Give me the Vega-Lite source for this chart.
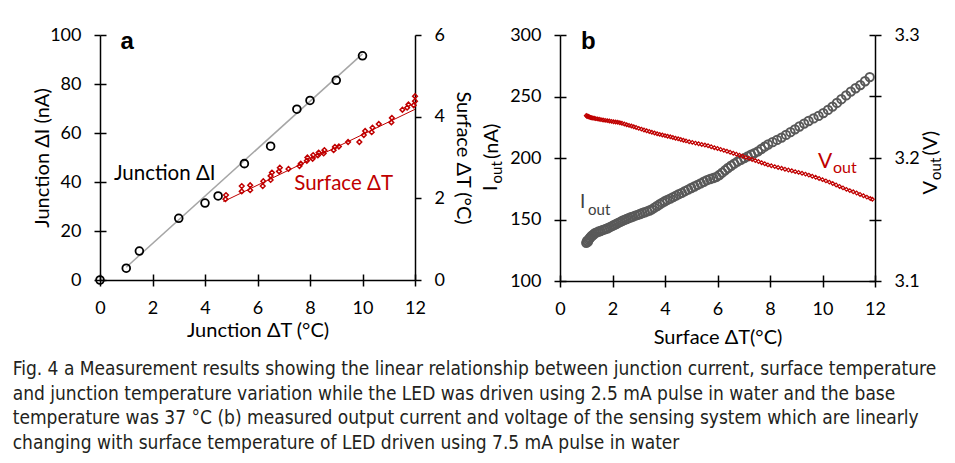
{
  "$schema": "https://vega.github.io/schema/vega-lite/v6.json",
  "padding": {"left": 12, "top": 26, "right": 0, "bottom": 0},
  "background": "white",
  "config": {
    "view": {"stroke": null},
    "font": "Lato",
    "concat": {"spacing": 8},
    "axis": {
      "grid": false, "domainColor": "#000", "domainWidth": 1.5, "tickColor": "#000", "tickWidth": 1.5, "tickSize": 6,
      "labelFont": "Lato", "labelFontSize": 18, "labelColor": "#000", "labelPadding": 13, "labelFlush": false, "labelOverlap": false,
      "titleFont": "Lato", "titleFontSize": 20, "titleFontWeight": "normal", "titleColor": "#000"
    }
  },
  "title": {
    "text": [
      "Fig. 4  a Measurement results showing the linear relationship between junction current, surface temperature",
      "and junction temperature variation while the LED was driven using 2.5 mA pulse in water and the base",
      "temperature was 37 °C (b) measured output current and voltage of the sensing system which are linearly",
      "changing with surface temperature of LED driven using 7.5 mA pulse in water"
    ],
    "orient": "bottom", "anchor": "start", "frame": "bounds",
    "font": "'Liberation Sans Narrow', 'DejaVu Sans Condensed', 'Roboto Condensed', sans-serif",
    "fontSize": 19, "fontWeight": "normal", "color": "#231f20", "lineHeight": 24.5, "offset": 13, "dx": -20
  },
  "datasets": {
    "junction": [
      {"x": 0, "dI": 0}, {"x": 1, "dI": 4.8}, {"x": 1.5, "dI": 11.8}, {"x": 3, "dI": 25.2}, {"x": 4, "dI": 31.4},
      {"x": 4.5, "dI": 34.3}, {"x": 5.5, "dI": 47.5}, {"x": 6.5, "dI": 54.6}, {"x": 7.5, "dI": 69.7}, {"x": 8, "dI": 73.3},
      {"x": 9, "dI": 81.5}, {"x": 10, "dI": 91.5}
    ],
    "jfit": [{"x": 1, "dI": 5.2}, {"x": 10, "dI": 92.3}],
    "surface": [
      {"x": 4.78, "sT": 1.98}, {"x": 4.8, "sT": 2.08}, {"x": 5.4, "sT": 2.17}, {"x": 5.4, "sT": 2.3}, {"x": 5.72, "sT": 2.2},
      {"x": 5.72, "sT": 2.32}, {"x": 6.2, "sT": 2.3}, {"x": 6.22, "sT": 2.42}, {"x": 6.5, "sT": 2.45}, {"x": 6.5, "sT": 2.55},
      {"x": 6.55, "sT": 2.63}, {"x": 6.82, "sT": 2.66}, {"x": 6.85, "sT": 2.75}, {"x": 7.18, "sT": 2.72}, {"x": 7.6, "sT": 2.79},
      {"x": 7.65, "sT": 2.85}, {"x": 7.88, "sT": 2.92}, {"x": 7.9, "sT": 3.0}, {"x": 8.1, "sT": 2.97}, {"x": 8.12, "sT": 3.06},
      {"x": 8.3, "sT": 3.05}, {"x": 8.33, "sT": 3.12}, {"x": 8.52, "sT": 3.1}, {"x": 8.55, "sT": 3.18}, {"x": 8.9, "sT": 3.18},
      {"x": 8.95, "sT": 3.26}, {"x": 9.1, "sT": 3.27}, {"x": 9.45, "sT": 3.38}, {"x": 9.88, "sT": 3.38}, {"x": 10.05, "sT": 3.55},
      {"x": 10.1, "sT": 3.65}, {"x": 10.35, "sT": 3.62}, {"x": 10.38, "sT": 3.73}, {"x": 10.62, "sT": 3.82}, {"x": 11.1, "sT": 3.86},
      {"x": 11.12, "sT": 3.97}, {"x": 11.52, "sT": 4.17}, {"x": 11.7, "sT": 4.22}, {"x": 11.75, "sT": 4.3}, {"x": 11.95, "sT": 4.28},
      {"x": 12.0, "sT": 4.38}, {"x": 12.0, "sT": 4.5}
    ],
    "sfit": [{"x": 4.7, "sT": 1.92}, {"x": 12, "sT": 4.18}],
    "iout": [
      {"x": 1.0, "iout": 131}, {"x": 1.03, "iout": 132.5}, {"x": 1.06, "iout": 131.8}, {"x": 1.09, "iout": 133.5}, {"x": 1.12, "iout": 134.5},
      {"x": 1.15, "iout": 135.2}, {"x": 1.19, "iout": 136.3}, {"x": 1.23, "iout": 137}, {"x": 1.28, "iout": 137.8}, {"x": 1.33, "iout": 138.9},
      {"x": 1.4, "iout": 139.5}, {"x": 1.47, "iout": 140.2}, {"x": 1.54, "iout": 140.6}, {"x": 1.61, "iout": 141.4}, {"x": 1.68, "iout": 141.8},
      {"x": 1.75, "iout": 142.4}, {"x": 1.82, "iout": 142.9}, {"x": 1.9, "iout": 143.8}, {"x": 1.98, "iout": 144.6}, {"x": 2.06, "iout": 145.5},
      {"x": 2.14, "iout": 146.3}, {"x": 2.22, "iout": 147.2}, {"x": 2.3, "iout": 148.1}, {"x": 2.38, "iout": 149.0}, {"x": 2.46, "iout": 149.7},
      {"x": 2.54, "iout": 150.4}, {"x": 2.62, "iout": 151.1}, {"x": 2.7, "iout": 151.8}, {"x": 2.78, "iout": 152.3}, {"x": 2.87, "iout": 153.2},
      {"x": 2.96, "iout": 153.8}, {"x": 3.05, "iout": 154.5}, {"x": 3.14, "iout": 155.3}, {"x": 3.23, "iout": 155.9}, {"x": 3.32, "iout": 156.6},
      {"x": 3.41, "iout": 157.3}, {"x": 3.5, "iout": 158.2}, {"x": 3.6, "iout": 159.6}, {"x": 3.7, "iout": 161.0}, {"x": 3.8, "iout": 162.4},
      {"x": 3.9, "iout": 163.7}, {"x": 3.99, "iout": 164.8}, {"x": 4.09, "iout": 165.9}, {"x": 4.2, "iout": 167.0}, {"x": 4.31, "iout": 168.2},
      {"x": 4.42, "iout": 169.4}, {"x": 4.53, "iout": 170.6}, {"x": 4.64, "iout": 171.7}, {"x": 4.76, "iout": 173.0}, {"x": 4.88, "iout": 174.3},
      {"x": 5.0, "iout": 175.6}, {"x": 5.12, "iout": 176.8}, {"x": 5.24, "iout": 178.1}, {"x": 5.36, "iout": 179.4}, {"x": 5.48, "iout": 180.7},
      {"x": 5.6, "iout": 182.0}, {"x": 5.72, "iout": 182.9}, {"x": 5.84, "iout": 183.7}, {"x": 5.96, "iout": 184.6}, {"x": 6.07, "iout": 186.2},
      {"x": 6.18, "iout": 188.1}, {"x": 6.29, "iout": 190.0}, {"x": 6.4, "iout": 191.9}, {"x": 6.52, "iout": 193.7}, {"x": 6.64, "iout": 195.4},
      {"x": 6.76, "iout": 197.1}, {"x": 6.89, "iout": 198.5}, {"x": 7.02, "iout": 199.9}, {"x": 7.15, "iout": 201.3}, {"x": 7.28, "iout": 202.7},
      {"x": 7.41, "iout": 204.0}, {"x": 7.54, "iout": 205.4}, {"x": 7.67, "iout": 207.3}, {"x": 7.8, "iout": 209.2}, {"x": 7.93, "iout": 211.0},
      {"x": 8.1, "iout": 212.9}, {"x": 8.27, "iout": 214.7}, {"x": 8.44, "iout": 216.6}, {"x": 8.61, "iout": 218.8}, {"x": 8.78, "iout": 221.0},
      {"x": 8.95, "iout": 223.3}, {"x": 9.12, "iout": 225.6}, {"x": 9.3, "iout": 228.0}, {"x": 9.47, "iout": 230.1}, {"x": 9.66, "iout": 232.2},
      {"x": 9.85, "iout": 234.2}, {"x": 10.03, "iout": 236.5}, {"x": 10.21, "iout": 239.1}, {"x": 10.38, "iout": 241.8}, {"x": 10.55, "iout": 244.8},
      {"x": 10.72, "iout": 247.8}, {"x": 10.9, "iout": 250.9}, {"x": 11.08, "iout": 254.0}, {"x": 11.26, "iout": 256.7}, {"x": 11.44, "iout": 259.3},
      {"x": 11.62, "iout": 262.4}, {"x": 11.8, "iout": 265.8}
    ],
    "vout": [
      {"x": 1.0, "vout": 3.2345}, {"x": 1.03, "vout": 3.2338}, {"x": 1.06, "vout": 3.2342}, {"x": 1.09, "vout": 3.2335}, {"x": 1.12, "vout": 3.2333},
      {"x": 1.16, "vout": 3.233}, {"x": 1.2, "vout": 3.2328}, {"x": 1.25, "vout": 3.2325}, {"x": 1.3, "vout": 3.2323}, {"x": 1.36, "vout": 3.232},
      {"x": 1.42, "vout": 3.2318}, {"x": 1.49, "vout": 3.2315}, {"x": 1.56, "vout": 3.2312}, {"x": 1.64, "vout": 3.2309}, {"x": 1.72, "vout": 3.2306},
      {"x": 1.8, "vout": 3.2304}, {"x": 1.88, "vout": 3.2301}, {"x": 1.96, "vout": 3.2298}, {"x": 2.04, "vout": 3.2295}, {"x": 2.12, "vout": 3.2292},
      {"x": 2.2, "vout": 3.229}, {"x": 2.28, "vout": 3.2287}, {"x": 2.36, "vout": 3.2283}, {"x": 2.45, "vout": 3.2277}, {"x": 2.54, "vout": 3.2271},
      {"x": 2.63, "vout": 3.2265}, {"x": 2.72, "vout": 3.226}, {"x": 2.81, "vout": 3.2254}, {"x": 2.9, "vout": 3.2248}, {"x": 3.0, "vout": 3.2241},
      {"x": 3.1, "vout": 3.2235}, {"x": 3.2, "vout": 3.2228}, {"x": 3.3, "vout": 3.2222}, {"x": 3.4, "vout": 3.2215}, {"x": 3.5, "vout": 3.2209},
      {"x": 3.6, "vout": 3.2203}, {"x": 3.7, "vout": 3.2197}, {"x": 3.8, "vout": 3.2192}, {"x": 3.9, "vout": 3.2187}, {"x": 4.0, "vout": 3.2182},
      {"x": 4.1, "vout": 3.2177}, {"x": 4.2, "vout": 3.2172}, {"x": 4.3, "vout": 3.2167}, {"x": 4.4, "vout": 3.2161}, {"x": 4.5, "vout": 3.2156},
      {"x": 4.6, "vout": 3.215}, {"x": 4.7, "vout": 3.2144}, {"x": 4.8, "vout": 3.2139}, {"x": 4.92, "vout": 3.2132}, {"x": 5.04, "vout": 3.2127},
      {"x": 5.16, "vout": 3.2121}, {"x": 5.28, "vout": 3.2116}, {"x": 5.4, "vout": 3.211}, {"x": 5.52, "vout": 3.2105}, {"x": 5.64, "vout": 3.21},
      {"x": 5.76, "vout": 3.2092}, {"x": 5.88, "vout": 3.2084}, {"x": 6.0, "vout": 3.2077}, {"x": 6.12, "vout": 3.207}, {"x": 6.24, "vout": 3.2062},
      {"x": 6.36, "vout": 3.2055}, {"x": 6.48, "vout": 3.2047}, {"x": 6.6, "vout": 3.2039}, {"x": 6.72, "vout": 3.2031}, {"x": 6.84, "vout": 3.2022},
      {"x": 6.96, "vout": 3.2014}, {"x": 7.08, "vout": 3.2005}, {"x": 7.2, "vout": 3.1997}, {"x": 7.32, "vout": 3.1988}, {"x": 7.44, "vout": 3.1979},
      {"x": 7.56, "vout": 3.1971}, {"x": 7.68, "vout": 3.1962}, {"x": 7.8, "vout": 3.1953}, {"x": 7.92, "vout": 3.1944}, {"x": 8.05, "vout": 3.1937},
      {"x": 8.18, "vout": 3.193}, {"x": 8.31, "vout": 3.1923}, {"x": 8.44, "vout": 3.1916}, {"x": 8.57, "vout": 3.1909}, {"x": 8.7, "vout": 3.1902},
      {"x": 8.83, "vout": 3.1896}, {"x": 8.96, "vout": 3.1889}, {"x": 9.09, "vout": 3.1883}, {"x": 9.22, "vout": 3.1876}, {"x": 9.35, "vout": 3.1869},
      {"x": 9.48, "vout": 3.1861}, {"x": 9.61, "vout": 3.1852}, {"x": 9.74, "vout": 3.1843}, {"x": 9.87, "vout": 3.1833}, {"x": 10.0, "vout": 3.1824},
      {"x": 10.13, "vout": 3.1814}, {"x": 10.26, "vout": 3.1804}, {"x": 10.39, "vout": 3.1792}, {"x": 10.52, "vout": 3.1781}, {"x": 10.65, "vout": 3.1769},
      {"x": 10.78, "vout": 3.1757}, {"x": 10.91, "vout": 3.1745}, {"x": 11.04, "vout": 3.1735}, {"x": 11.17, "vout": 3.1725}, {"x": 11.3, "vout": 3.1715},
      {"x": 11.43, "vout": 3.1704}, {"x": 11.56, "vout": 3.1693}, {"x": 11.69, "vout": 3.1682}, {"x": 11.82, "vout": 3.167}, {"x": 11.9, "vout": 3.1664}
    ]
  },
  "hconcat": [
    {
      "width": 315, "height": 245,
      "resolve": {"scale": {"y": "independent"}, "axis": {"x": "independent"}},
      "layer": [
        {
          "resolve": {"axis": {"y": "independent"}},
          "layer": [
            {
              "encoding": {
                "x": {"field": "x", "type": "quantitative", "scale": {"domain": [0, 12]}, "axis": {"values": [0, 2, 4, 6, 8, 10, 12], "title": "Junction ΔT (°C)", "titlePadding": 3}},
                "y": {"field": "dI", "type": "quantitative", "scale": {"domain": [0, 100]}, "axis": {"orient": "left", "values": [0, 20, 40, 60, 80, 100], "title": "Junction ΔI (nA)", "titlePadding": -3}}
              },
              "layer": [
                {"data": {"name": "jfit"}, "mark": {"type": "line", "color": "#a6a6a6", "strokeWidth": 1.5}},
                {"data": {"name": "junction"}, "mark": {"type": "point", "shape": "circle", "filled": false, "color": "#000", "size": 60, "strokeWidth": 1.8, "opacity": 1}},
                {"data": {"values": [{"x": 0.53, "dI": 40.8}]}, "mark": {"type": "text", "text": "Junction ΔI", "fontSize": 20.5, "align": "left", "baseline": "alphabetic", "color": "#000"}},
                {"data": {"values": [{"x": 7.4, "dI": 36.7}]}, "mark": {"type": "text", "text": "Surface ΔT", "fontSize": 20.5, "align": "left", "baseline": "alphabetic", "color": "#c00000"}}
              ]
            },
            {
              "data": {"values": [{"x": 0.78, "dI": 94.2}]},
              "mark": {"type": "text", "text": "a", "font": "Liberation Sans", "fontWeight": "bold", "fontSize": 24, "align": "left", "baseline": "alphabetic", "color": "#000"},
              "encoding": {
                "x": {"field": "x", "type": "quantitative", "scale": {"domain": [0, 12]}, "axis": {"values": [0, 2, 4, 6, 8, 10, 12], "title": "Junction ΔT (°C)", "titlePadding": 3}},
                "y": {"field": "dI", "type": "quantitative", "scale": {"domain": [0, 100]}, "axis": {"orient": "left", "values": [0, 20, 40, 60, 80, 100], "domain": false, "labels": false, "title": null, "tickSize": 6, "offset": -6}}
              }
            }
          ]
        },
        {
          "encoding": {
            "x": {"field": "x", "type": "quantitative", "scale": {"domain": [0, 12]}, "axis": {"orient": "bottom", "values": [0, 2, 4, 6, 8, 10, 12], "domain": false, "labels": false, "title": null, "tickSize": 6, "offset": -6}},
            "y": {"field": "sT", "type": "quantitative", "scale": {"domain": [0, 6]}, "axis": {"orient": "right", "values": [0, 2, 4, 6], "title": "Surface ΔT (°C)", "titlePadding": 8}}
          },
          "layer": [
            {"data": {"name": "sfit"}, "mark": {"type": "line", "color": "#c00000", "strokeWidth": 1}},
            {"data": {"name": "surface"}, "mark": {"type": "point", "shape": "diamond", "filled": false, "color": "#c00000", "size": 22, "strokeWidth": 1.5, "opacity": 1}}
          ]
        }
      ]
    },
    {
      "width": 315, "height": 246,
      "resolve": {"scale": {"y": "independent"}, "axis": {"x": "independent"}},
      "layer": [
        {
          "resolve": {"axis": {"y": "independent"}},
          "layer": [
            {
              "encoding": {
                "x": {"field": "x", "type": "quantitative", "scale": {"domain": [0, 12]}, "axis": {"values": [0, 2, 4, 6, 8, 10, 12], "title": "Surface ΔT(°C)", "titlePadding": 9}},
                "y": {"field": "iout", "type": "quantitative", "scale": {"domain": [100, 300]}, "axis": {"orient": "left", "values": [100, 150, 200, 250, 300], "title": null}}
              },
              "layer": [
                {"data": {"name": "iout"}, "mark": {"type": "point", "shape": "circle", "filled": false, "color": "#595959", "size": 70, "strokeWidth": 2, "opacity": 1}},
                {"data": {"values": [{"x": 0.76, "iout": 159.2}]}, "mark": {"type": "text", "text": "I", "fontSize": 19, "align": "left", "baseline": "alphabetic", "color": "#404040"}},
                {"data": {"values": [{"x": 1.07, "iout": 153.8}]}, "mark": {"type": "text", "text": "out", "fontSize": 15, "align": "left", "baseline": "alphabetic", "color": "#404040"}},
                {"data": {"values": [{"x": -2.61, "iout": 175.4}]}, "mark": {"type": "text", "text": "I", "fontSize": 20, "angle": 270, "align": "center", "baseline": "middle", "color": "#000"}},
                {"data": {"values": [{"x": -2.4, "iout": 188.4}]}, "mark": {"type": "text", "text": "out", "fontSize": 15, "angle": 270, "align": "center", "baseline": "middle", "color": "#000"}},
                {"data": {"values": [{"x": -2.59, "iout": 213.6}]}, "mark": {"type": "text", "text": "(nA)", "fontSize": 20, "angle": 270, "align": "center", "baseline": "middle", "color": "#000"}},
                {"data": {"values": [{"x": 14.13, "iout": 175.8}]}, "mark": {"type": "text", "text": "V", "fontSize": 20, "angle": 270, "align": "center", "baseline": "middle", "color": "#000"}},
                {"data": {"values": [{"x": 14.32, "iout": 191.2}]}, "mark": {"type": "text", "text": "out", "fontSize": 15, "angle": 270, "align": "center", "baseline": "middle", "color": "#000"}},
                {"data": {"values": [{"x": 14.13, "iout": 212.0}]}, "mark": {"type": "text", "text": "(V)", "fontSize": 20, "angle": 270, "align": "center", "baseline": "middle", "color": "#000"}}
              ]
            },
            {
              "data": {"values": [{"x": 0.8, "iout": 288.8}]},
              "mark": {"type": "text", "text": "b", "font": "Liberation Sans", "fontWeight": "bold", "fontSize": 24, "align": "left", "baseline": "alphabetic", "color": "#000"},
              "encoding": {
                "x": {"field": "x", "type": "quantitative", "scale": {"domain": [0, 12]}, "axis": {"values": [0, 2, 4, 6, 8, 10, 12], "title": "Surface ΔT(°C)", "titlePadding": 9}},
                "y": {"field": "iout", "type": "quantitative", "scale": {"domain": [100, 300]}, "axis": {"orient": "left", "values": [100, 150, 200, 250, 300], "domain": false, "labels": false, "title": null, "tickSize": 6, "offset": -6}}
              }
            }
          ]
        },
        {
          "resolve": {"axis": {"y": "independent"}},
          "layer": [
            {
              "data": {"name": "vout"},
              "mark": {"type": "point", "shape": "diamond", "filled": false, "color": "#c00000", "size": 14, "strokeWidth": 1.2, "opacity": 1},
              "encoding": {
                "x": {"field": "x", "type": "quantitative", "scale": {"domain": [0, 12]}, "axis": {"orient": "bottom", "values": [0, 2, 4, 6, 8, 10, 12], "domain": false, "labels": false, "title": null, "tickSize": 6, "offset": -6}},
                "y": {"field": "vout", "type": "quantitative", "scale": {"domain": [3.1, 3.3]}, "axis": {"orient": "right", "values": [3.1, 3.15, 3.2, 3.25, 3.3], "labelExpr": "round(datum.value*100) % 10 == 0 ? format(datum.value, '.1f') : ''", "title": null}}
              }
            },
            {
              "encoding": {
                "x": {"field": "x", "type": "quantitative", "scale": {"domain": [0, 12]}, "axis": {"orient": "bottom", "values": [0, 2, 4, 6, 8, 10, 12], "domain": false, "labels": false, "title": null, "tickSize": 6, "offset": -6}},
                "y": {"field": "vout", "type": "quantitative", "scale": {"domain": [3.1, 3.3]}, "axis": {"orient": "right", "values": [3.1, 3.15, 3.2, 3.25, 3.3], "domain": false, "labels": false, "title": null, "tickSize": 6, "offset": -6}}
              },
              "layer": [
                {"data": {"values": [{"x": 9.83, "vout": 3.1921}]}, "mark": {"type": "text", "text": "V", "fontSize": 21, "align": "left", "baseline": "alphabetic", "color": "#c00000"}},
                {"data": {"values": [{"x": 10.4, "vout": 3.188}]}, "mark": {"type": "text", "text": "out", "fontSize": 16, "align": "left", "baseline": "alphabetic", "color": "#c00000"}}
              ]
            }
          ]
        }
      ]
    }
  ]
}
